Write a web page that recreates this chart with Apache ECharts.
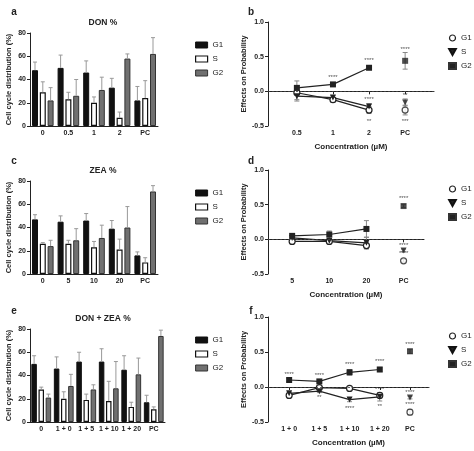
<!DOCTYPE html>
<html><head><meta charset="utf-8">
<script src="https://cdn.jsdelivr.net/npm/echarts@6/dist/echarts.min.js"></script>
<style>html,body{margin:0;background:#fff}#c{width:474px;height:451px}</style>
</head><body><div id="c"></div>
<script>
// bar panels: means and upper end of error bar
var catsA = ['0', '0.5', '1', '2', 'PC'];
var aG1 = [48, 50, 46, 33, 22], aG1e = [55, 61, 56, 41, 34];
var aS  = [29, 23, 20, 7, 24],  aSe  = [38, 29, 25, 12, 39];
var aG2 = [22, 26, 31, 58, 62], aG2e = [33, 40, 42, 62, 76];

var catsC = ['0', '5', '10', '20', 'PC'];
var cG1 = [47, 45, 46, 39, 16], cG1e = [51, 50, 52, 46, 19];
var cS  = [26, 26, 23, 21, 10], cSe  = [27, 29, 28, 30, 14];
var cG2 = [24, 29, 31, 40, 71], cG2e = [29, 39, 42, 58, 76];

var catsE = ['0', '1 + 0', '1 + 5', '1 + 10', '1 + 20', 'PC'];
var eG1 = [50, 46, 52, 52, 45, 17], eG1e = [57, 56, 60, 63, 57, 23];
var eS  = [28, 20, 19, 18, 13, 11], eSe  = [30, 26, 24, 35, 17, 13];
var eG2 = [21, 31, 28, 29, 41, 74], eG2e = [24, 41, 32, 52, 55, 79];

// probability panels: values and +/- error
var catsB = ['0.5', '1', '2', 'PC'];
var bG1 = [-0.02, -0.12, -0.27, -0.27], bG1e = [0.10, 0.03, 0.05, 0.07];
var bS  = [-0.07, -0.09, -0.22, -0.16], bSe  = [0.07, 0.03, 0.04, 0.05];
var bG2 = [0.05, 0.10, 0.34, 0.44],     bG2e = [0.10, 0.01, 0.02, 0.12];
var bStars = [[1, 0.2, '****'], [2, 0.45, '****'], [2, -0.11, '****'], [2, -0.43, '**'],
              [3, 0.61, '****'], [3, -0.06, '**'], [3, -0.43, '***']];

var catsD = ['5', '10', '20', 'PC'];
var dG1 = [-0.03, -0.03, -0.09, -0.31], dG1e = [0.02, 0.02, 0.05, 0.02];
var dS  = [0.02, -0.02, -0.05, -0.16],  dSe  = [0.03, 0.03, 0.08, 0.02];
var dG2 = [0.05, 0.07, 0.15, 0.48],     dG2e = [0.03, 0.05, 0.12, 0.02];
var dStars = [[3, 0.59, '****'], [3, -0.08, '****'], [3, -0.2, '****']];

var catsF = ['1 + 0', '1 + 5', '1 + 10', '1 + 20', 'PC'];
var fG1 = [-0.12, -0.01, -0.02, -0.12, -0.36], fG1e = [0.03, 0.02, 0.02, 0.03, 0.04];
var fS  = [-0.09, -0.06, -0.18, -0.14, -0.15], fSe  = [0.02, 0.02, 0.03, 0.06, 0.02];
var fG2 = [0.10, 0.08, 0.21, 0.25, 0.51],      fG2e = [0.02, 0.02, 0.04, 0.03, 0.03];
var fStars = [[0, 0.18, '****'], [1, 0.16, '****'], [1, -0.15, '**'], [2, 0.32, '****'],
              [2, -0.3, '****'], [3, 0.36, '****'], [3, -0.04, '****'], [3, -0.28, '**'],
              [4, 0.61, '****'], [4, -0.08, '****'], [4, -0.25, '****']];

var FONT = 'Liberation Sans';
var txt = {fontFamily: FONT, fontWeight: 'bold', fontSize: 7, color: '#222'};
var axLine = {lineStyle: {color: '#222', width: 1}};
var TRI = 'path://M0,0 L10,0 L5,9 Z';

var grids = [
  {left: 30, top: 33, width: 128, height: 93},
  {left: 268, top: 22, width: 166, height: 104},
  {left: 30, top: 181, width: 128, height: 93},
  {left: 268, top: 170, width: 156, height: 104},
  {left: 30, top: 329, width: 135, height: 93},
  {left: 268, top: 317, width: 161, height: 105}
];
var xAxes = [], yAxes = [], series = [], legends = [];

function barPanel(gi, cats, vals, ups, legTop, bw) {
  var step = bw * 1.3;
  xAxes.push({gridIndex: gi, type: 'category', data: cats, axisLine: axLine,
    axisTick: {alignWithLabel: true, length: 3, lineStyle: {color: '#222'}},
    axisLabel: Object.assign({margin: 4, interval: 0}, txt)});
  yAxes.push({gridIndex: gi, type: 'value', min: 0, max: 80, interval: 20,
    axisLine: Object.assign({show: true}, axLine), axisTick: {show: true, length: 3},
    splitLine: {show: false}, axisLabel: Object.assign({margin: 4}, txt),
    name: 'Cell cycle distribution (%)', nameLocation: 'middle', nameGap: 17,
    nameTextStyle: Object.assign({}, txt, {fontSize: 7.5})});
  var names = ['G1', 'S', 'G2'];
  var styles = [
    {color: '#111', borderColor: '#111', borderWidth: 1},
    {color: '#fff', borderColor: '#111', borderWidth: 1.2},
    {color: '#707070', borderColor: '#333', borderWidth: 1}
  ];
  names.forEach(function (n, k) {
    series.push({type: 'bar', name: n, xAxisIndex: gi, yAxisIndex: gi, data: vals[k],
      barWidth: bw, barGap: '30%', itemStyle: styles[k], z: 2});
    series.push({type: 'custom', xAxisIndex: gi, yAxisIndex: gi, z: 3,
      data: ups[k].map(function (u, i) { return [i, vals[k][i], u]; }),
      renderItem: function (p, api) {
        var top = api.coord([api.value(0), api.value(2)]);
        var base = api.coord([api.value(0), api.value(1)]);
        var x = top[0] + (k - 1) * step;
        return {type: 'group', children: [
          {type: 'line', shape: {x1: x, y1: base[1], x2: x, y2: top[1]}, style: {stroke: '#999', lineWidth: 1}},
          {type: 'line', shape: {x1: x - 2, y1: top[1], x2: x + 2, y2: top[1]}, style: {stroke: '#999', lineWidth: 1}}
        ]};
      }});
  });
  legends.push({left: 190, top: legTop, orient: 'vertical', itemGap: 6, itemWidth: 12, itemHeight: 6,
    data: [
      {name: 'G1', icon: 'rect', itemStyle: styles[0]},
      {name: 'S', icon: 'rect', itemStyle: styles[1]},
      {name: 'G2', icon: 'rect', itemStyle: styles[2]}
    ], textStyle: {fontFamily: FONT, fontSize: 8, color: '#222'}, selectedMode: false});
}

function probPanel(gi, cats, min, max, vals, errs, stars, legTop) {
  var idx = cats.map(function (c, i) { return i; });
  xAxes.push({gridIndex: gi, type: 'value', min: min, max: max, axisLine: axLine,
    splitLine: {show: false},
    axisTick: {show: true, length: 3, customValues: idx},
    axisLabel: Object.assign({margin: 4, customValues: idx,
      formatter: function (v) { return cats[Math.round(v)]; }}, txt),
    name: 'Concentration (µM)', nameLocation: 'middle', nameGap: 17,
    nameTextStyle: Object.assign({}, txt, {fontSize: 8})});
  yAxes.push({gridIndex: gi, type: 'value', min: -0.5, max: 1.0, interval: 0.5,
    axisLine: Object.assign({show: true, onZero: false}, axLine), axisTick: {show: true, length: 3},
    splitLine: {show: false},
    axisLabel: Object.assign({margin: 4, formatter: function (v) { return v.toFixed(1); }}, txt),
    name: 'Effects on Probability', nameLocation: 'middle', nameGap: 20,
    nameTextStyle: Object.assign({}, txt, {fontSize: 7.5})});
  var names = ['G1', 'S', 'G2'];
  var syms = [
    {symbol: 'circle', symbolSize: 6, itemStyle: {color: '#fff', borderColor: '#222', borderWidth: 1.2}},
    {symbol: TRI, symbolSize: 6, itemStyle: {color: '#222'}},
    {symbol: 'rect', symbolSize: 6, itemStyle: {color: '#222'}}
  ];
  var last = cats.length - 1;
  names.forEach(function (n, k) {
    var pts = vals[k].map(function (v, i) { return [i, v]; });
    series.push({type: 'custom', xAxisIndex: gi, yAxisIndex: gi, z: 1,
      data: vals[k].map(function (v, i) { return [i, v - errs[k][i], v + errs[k][i]]; }),
      renderItem: function (p, api) {
        var lo = api.coord([api.value(0), api.value(1)]);
        var hi = api.coord([api.value(0), api.value(2)]);
        var s = {stroke: '#888', lineWidth: 1};
        return {type: 'group', children: [
          {type: 'line', shape: {x1: lo[0], y1: lo[1], x2: hi[0], y2: hi[1]}, style: s},
          {type: 'line', shape: {x1: lo[0] - 2.5, y1: lo[1], x2: lo[0] + 2.5, y2: lo[1]}, style: s},
          {type: 'line', shape: {x1: hi[0] - 2.5, y1: hi[1], x2: hi[0] + 2.5, y2: hi[1]}, style: s}
        ]};
      }});
    series.push(Object.assign({type: 'line', name: n, xAxisIndex: gi, yAxisIndex: gi, z: 3,
      data: pts.slice(0, last), lineStyle: {color: '#222', width: 1.2}, showAllSymbol: true}, syms[k]));
    series.push(Object.assign({type: 'scatter', name: n, xAxisIndex: gi, yAxisIndex: gi, z: 3,
      data: pts.slice(last)}, syms[k]));
  });
  series.push({type: 'line', xAxisIndex: gi, yAxisIndex: gi, data: [], silent: true,
    markLine: {symbol: 'none', silent: true, label: {show: false},
      lineStyle: {color: '#444', type: [2, 2], width: 0.8}, data: [{yAxis: 0}]}});
  series.push({type: 'scatter', xAxisIndex: gi, yAxisIndex: gi, symbolSize: 0, z: 4, data: stars,
    label: {show: true, position: 'inside', formatter: function (p) { return p.value[2]; },
      fontFamily: FONT, fontSize: 6, color: '#222'}});
  legends.push({left: 443, top: legTop, orient: 'vertical', itemGap: 6, itemWidth: 7, itemHeight: 6,
    data: [
      {name: 'G1', icon: 'circle', itemStyle: syms[0].itemStyle},
      {name: 'S', icon: TRI, itemStyle: syms[1].itemStyle},
      {name: 'G2', icon: 'rect', itemStyle: syms[2].itemStyle}
    ], textStyle: {fontFamily: FONT, fontSize: 8, color: '#222'}, selectedMode: false});
}

barPanel(0, catsA, [aG1, aS, aG2], [aG1e, aSe, aG2e], 36, 6);
probPanel(1, catsB, -0.8, 3.8, [bG1, bS, bG2], [bG1e, bSe, bG2e], bStars, 29);
barPanel(2, catsC, [cG1, cS, cG2], [cG1e, cSe, cG2e], 184, 6);
probPanel(3, catsD, -0.65, 3.55, [dG1, dS, dG2], [dG1e, dSe, dG2e], dStars, 180);
barPanel(4, catsE, [eG1, eS, eG2], [eG1e, eSe, eG2e], 331, 5.5);
probPanel(5, catsF, -0.7, 4.63, [fG1, fS, fG2], [fG1e, fSe, fG2e], fStars, 327);

function title(text, x, y, size) {
  return {text: text, left: x, top: y, textAlign: 'center',
    textStyle: {fontFamily: FONT, fontWeight: 'bold', fontSize: size, color: '#222'}};
}
var titles = [
  title('a', 9, 2, 10), title('b', 246, 2, 10), title('c', 9, 151, 10),
  title('d', 246, 151, 10), title('e', 9, 301, 10), title('f', 246, 301, 10),
  title('DON %', 98, 13, 8.5), title('ZEA %', 98, 161, 8.5), title('DON + ZEA %', 98, 309, 8.5)
];

var myChart = echarts.init(document.getElementById('c'));
myChart.setOption({animation: false, title: titles, grid: grids, xAxis: xAxes, yAxis: yAxes,
  legend: legends, series: series});
</script></body></html>
